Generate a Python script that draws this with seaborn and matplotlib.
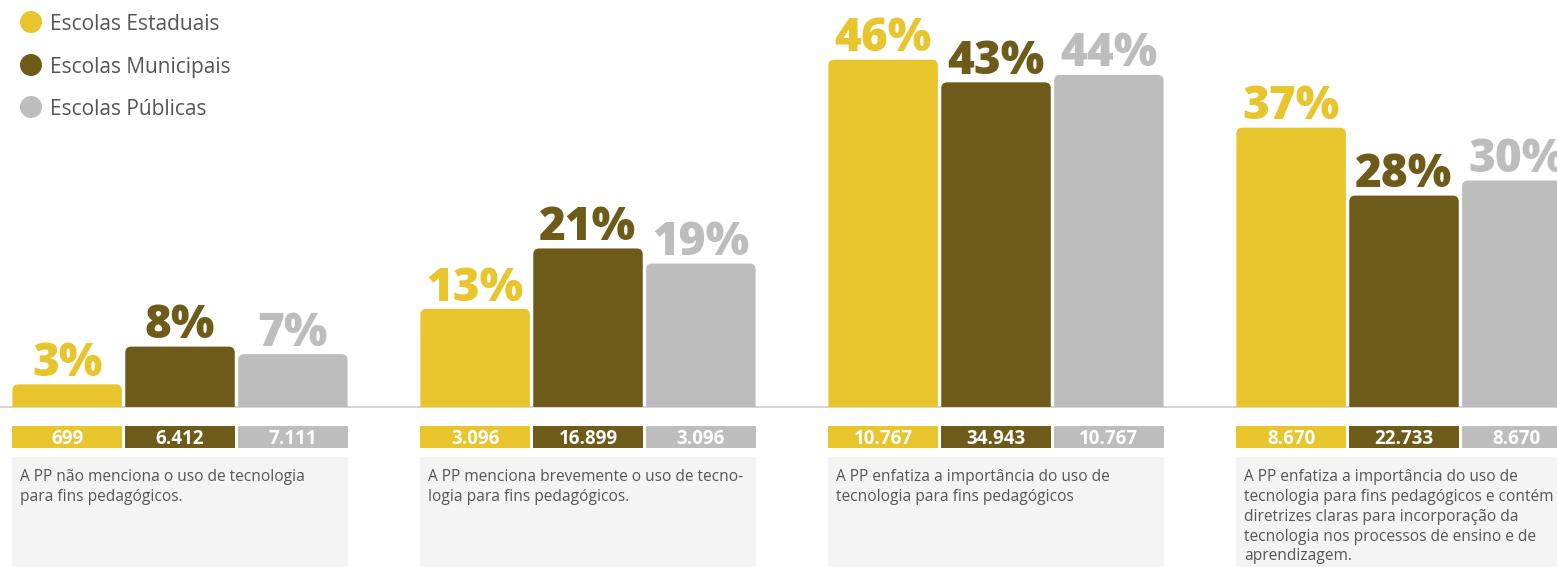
import matplotlib
matplotlib.use("Agg")
import matplotlib.pyplot as plt
import seaborn as sns
import pandas as pd
from matplotlib.patches import FancyBboxPatch, Rectangle, Circle
from matplotlib.transforms import blended_transform_factory

# ---- data -------------------------------------------------------------
categorias = ["nao_menciona", "menciona_brevemente", "enfatiza", "enfatiza_diretrizes"]
tipos = ["Escolas Estaduais", "Escolas Municipais", "Escolas Públicas"]
pct_estaduais = [3, 13, 46, 37]
pct_municipais = [8, 21, 43, 28]
pct_publicas = [7, 19, 44, 30]
n_estaduais = ["699", "3.096", "10.767", "8.670"]
n_municipais = ["6.412", "16.899", "34.943", "22.733"]
n_publicas = ["7.111", "3.096", "10.767", "8.670"]
descricoes = [
    "A PP não menciona o uso de tecnologia\npara fins pedagógicos.",
    "A PP menciona brevemente o uso de tecno-\nlogia para fins pedagógicos.",
    "A PP enfatiza a importância do uso de\ntecnologia para fins pedagógicos",
    "A PP enfatiza a importância do uso de\ntecnologia para fins pedagógicos e contém\n"
    "diretrizes claras para incorporação da\ntecnologia nos processos de ensino e de\naprendizagem.",
]
cores = ["#E8C42D", "#6E5B19", "#BDBDBD"]

df = pd.DataFrame({
    "categoria": categorias * 3,
    "tipo": [t for t in tipos for _ in categorias],
    "pct": pct_estaduais + pct_municipais + pct_publicas,
})
contagens = [n_estaduais, n_municipais, n_publicas]

# ---- figure -----------------------------------------------------------
sns.set_theme(style="white")
plt.rcParams["font.family"] = ["Open Sans", "DejaVu Sans"]

W, H = 1557, 567
fig = plt.figure(figsize=(W / 100, H / 100), dpi=100)
ax = fig.add_axes([0, 0, 1, 1])

sns.barplot(data=df, x="categoria", y="pct", hue="tipo", order=categorias,
            hue_order=tipos, palette=cores, width=0.83, gap=0.03,
            saturation=1, legend=False, ax=ax)

# scale: one category step = 408 px, 1 % = 7.55 px, baseline 407 px from top
px_x = 408.0
px_y = 7.55
base_px = 407
ax.set_xlim(-180 / px_x, (W - 180) / px_x)
ax.set_ylim(-(H - base_px) / px_y, base_px / px_y)
ax.axis("off")

# baseline
ax.axhline(0, color="#D6D6D6", lw=1.5, zorder=1)

# rounded tops for the bars
r_px = 6
clip = Rectangle((-10, 0), 20, 200, transform=ax.transData)
for hi, cont in enumerate(ax.containers):
    for bar in cont:
        x0, w, h = bar.get_x(), bar.get_width(), bar.get_height()
        bar.set_visible(False)
        rr = FancyBboxPatch((x0, -r_px / px_y), w, h + r_px / px_y,
                            boxstyle=f"round,pad=0,rounding_size={r_px / px_x}",
                            mutation_aspect=px_x / px_y,
                            fc=cores[hi], ec="none", zorder=2)
        ax.add_patch(rr)
        rr.set_clip_path(clip)

trans = blended_transform_factory(ax.transData, ax.transAxes)

def yfrac(px_from_top):
    return (H - px_from_top) / H

for hi, cont in enumerate(ax.containers):
    for ci, bar in enumerate(cont):
        x0, w, h = bar.get_x(), bar.get_width(), bar.get_height()
        xc = x0 + w / 2
        # percentage label
        ax.annotate(f"{h:.0f}%", (xc, h), xytext=(0, 6), textcoords="offset points",
                    ha="center", va="baseline", fontsize=33, fontweight=800,
                    color=cores[hi], zorder=3, annotation_clip=False)
        # count box
        ax.add_patch(Rectangle((x0, yfrac(448)), w, yfrac(426) - yfrac(448),
                               transform=trans, fc=cores[hi], ec="none", zorder=2))
        ax.text(xc, (yfrac(448) + yfrac(426)) / 2, contagens[hi][ci], transform=trans,
                ha="center", va="center_baseline", fontsize=13.5, fontweight="bold",
                color="white", zorder=3)

# description panels
first = ax.containers[0]
last = ax.containers[-1]
for ci in range(len(categorias)):
    x0 = first[ci].get_x()
    x1 = last[ci].get_x() + last[ci].get_width()
    ax.add_patch(Rectangle((x0, 0), x1 - x0, yfrac(457), transform=trans,
                           fc="#F4F4F4", ec="none", zorder=1))
    ax.text(x0 + 8 / px_x, yfrac(469), descricoes[ci], transform=trans,
            ha="left", va="top", fontsize=11.2, color="#555555",
            linespacing=1.32, zorder=3)

# legend (positions in inches from the lower-left corner)
for i, t in enumerate(tipos):
    yc = [22, 65, 107][i]
    fig.patches.append(Circle((31 / 100, (H - yc) / 100), 11 / 100,
                              transform=fig.dpi_scale_trans, fc=cores[i], ec="none"))
    fig.text(50 / W, 1 - yc / H, t, ha="left", va="center_baseline",
             fontsize=15, color="#555555")

fig.savefig("out.png", dpi=100)
